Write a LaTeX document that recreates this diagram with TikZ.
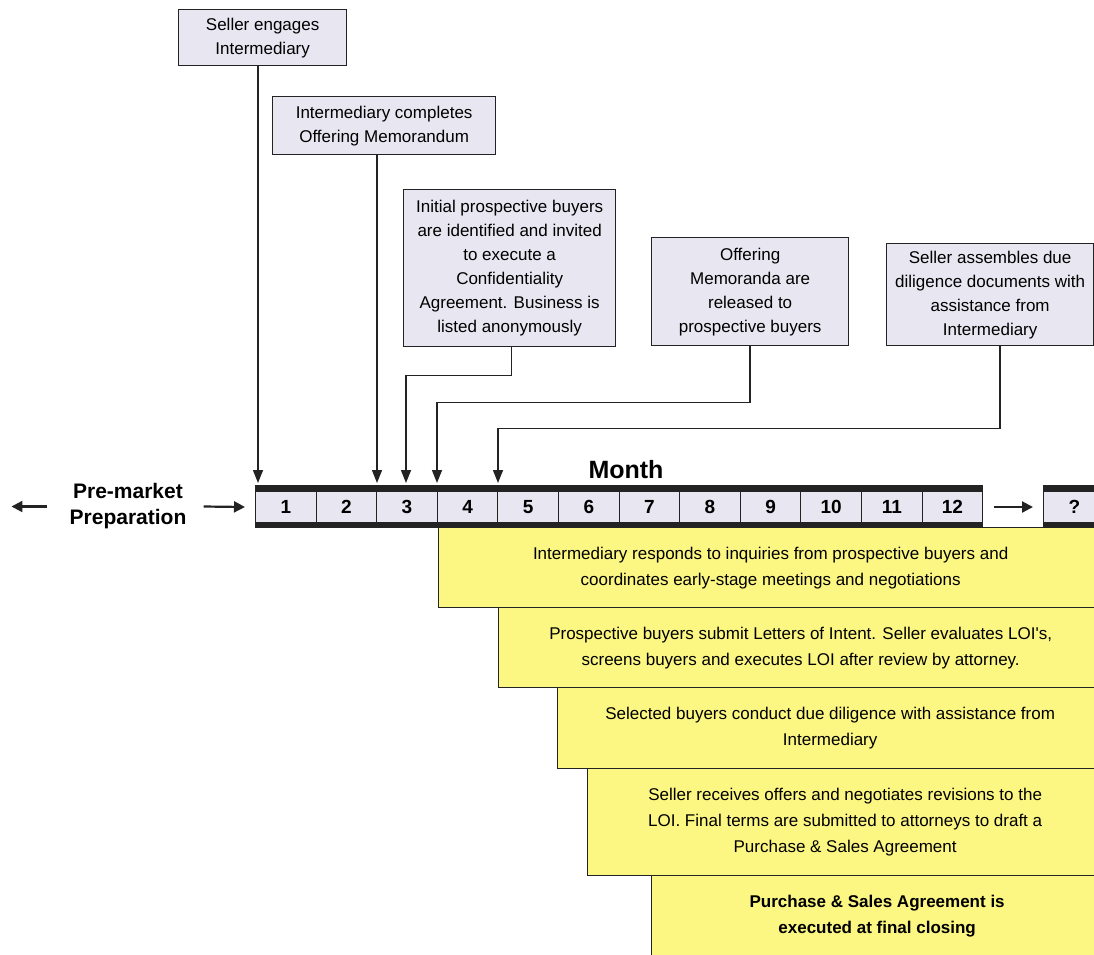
\documentclass[tikz,border=0pt]{standalone}
\usepackage{fontspec}
\setmainfont{Liberation Sans}
\newfontfamily\nomapfont{Liberation Sans}
\usetikzlibrary{arrows.meta}
\definecolor{lav}{RGB}{232,230,240}
\definecolor{yel}{RGB}{252,246,130}
\definecolor{ink}{RGB}{35,35,35}
\begin{document}
\begin{tikzpicture}[x=1pt,y=-1pt,
  tbox/.style={draw=ink, line width=1.3pt, fill=lav, align=center, font=\fontsize{17}{24}\selectfont, inner sep=0pt, anchor=north west},
  ybox/.style={draw=ink, line width=1.3pt, fill=yel, align=center, font=\fontsize{17}{26}\selectfont, inner sep=0pt, anchor=north west},
  conn/.style={draw=ink, line width=1.4pt},
  arr/.style={conn, -{Triangle[length=13pt,width=10pt]}},
  arrsm/.style={conn, line width=2.2pt, -{Triangle[length=11pt,width=11pt]}},
  cell/.style={draw=ink, line width=1pt, fill=lav, minimum width=60.6pt, minimum height=31pt, inner sep=0pt, anchor=north west, font=\fontsize{19}{19}\bfseries\selectfont},
  lbl/.style={align=center, inner sep=0pt}
]
\useasboundingbox (0,0) rectangle (1094,954);
\clip (0,0) rectangle (1094,954);

% top boxes
\node[tbox, minimum width=168pt, minimum height=56pt] (b1) at (178,9) {Seller engages\\Intermediary};
\node[tbox, minimum width=223pt, minimum height=58pt] (b2) at (272,96) {Intermediary completes\\Offering Memorandum};
\node[tbox, minimum width=212pt, minimum height=157pt] (b3) at (403,189) {Initial prospective buyers\\are identified and invited\\to execute a\\Confidentiality\\Agreement. Business is\\listed anonymously};
\node[tbox, minimum width=197pt, minimum height=108pt] (b4) at (651,237) {Offering\\Memoranda are\\released to\\prospective buyers};
\node[tbox, minimum width=207pt, minimum height=102pt] (b5) at (886,243) {Seller assembles due\\diligence documents with\\assistance from\\Intermediary};

% arrow targets on the bar
\coordinate (t1) at (258,483);
\coordinate (t2) at (377,483);
\coordinate (t3) at (406,483);
\coordinate (t4) at (437,483);
\coordinate (t5) at (498,483);

\draw[arr] (b1.south -| t1) -- (t1);
\draw[arr] (b2.south -| t2) -- (t2);
\draw[arr] ([xshift=2pt]b3.south) -- ++(0,28) -| (t3);
\draw[arr] (b4.south) -- ++(0,56) -| (t4);
\draw[arr] ([xshift=10pt]b5.south) -- ++(0,82) -| (t5);

% month bar
\fill[ink] (255,485) rectangle (983,491);
\fill[ink] (255,522) rectangle (983,528);
\foreach \i in {1,...,12} {
  \node[cell] (c\i) at ({255+60.6*(\i-1)},491) {\i};
}
\fill[ink] (1043,485) rectangle (1100,491);
\fill[ink] (1043,522) rectangle (1100,528);
\node[cell, minimum width=62pt] (q) at (1043,491) {?};

\node[lbl, font=\fontsize{25}{25}\bfseries\selectfont] (month) at (626,470) {Month};
\node[lbl, font=\fontsize{21}{26}\bfseries\selectfont] (pm) at (128,506.5) {Pre-market\\Preparation};

\draw[arrsm] ([xshift=-22pt]pm.west) -- ([xshift=-58pt]pm.west);
\draw[arrsm] ([xshift=17pt]pm.east) -- ([xshift=-10pt]c1.west);
\draw[arrsm] ([xshift=11pt]c12.east) -- ([xshift=-10pt]q.west);

% yellow stages
\node[ybox, minimum width=664pt, minimum height=80pt] (y1) at (438,527) {Intermediary responds to inquiries from prospective buyers and\\coordinates early-stage meetings and negotiations};
\node[ybox, minimum width=604pt, minimum height=80pt] (y2) at (498,607) {Prospective buyers submit Letters of Intent. Seller evaluates LOI{\nomapfont'}s,\\screens buyers and executes LOI after review by attorney.};
\node[ybox, minimum width=545pt, minimum height=81pt] (y3) at (557,687) {Selected buyers conduct due diligence with assistance from\\Intermediary};
\node[ybox, minimum width=515pt, minimum height=107pt] (y4) at (587,768) {Seller receives offers and negotiates revisions to the\\LOI. Final terms are submitted to attorneys to draft a\\Purchase \& Sales Agreement};
\node[ybox, minimum width=451pt, minimum height=80pt, font=\fontsize{17}{26}\bfseries\selectfont] (y5) at (651,875) {Purchase \& Sales Agreement is\\executed at final closing};
\end{tikzpicture}
\end{document}
